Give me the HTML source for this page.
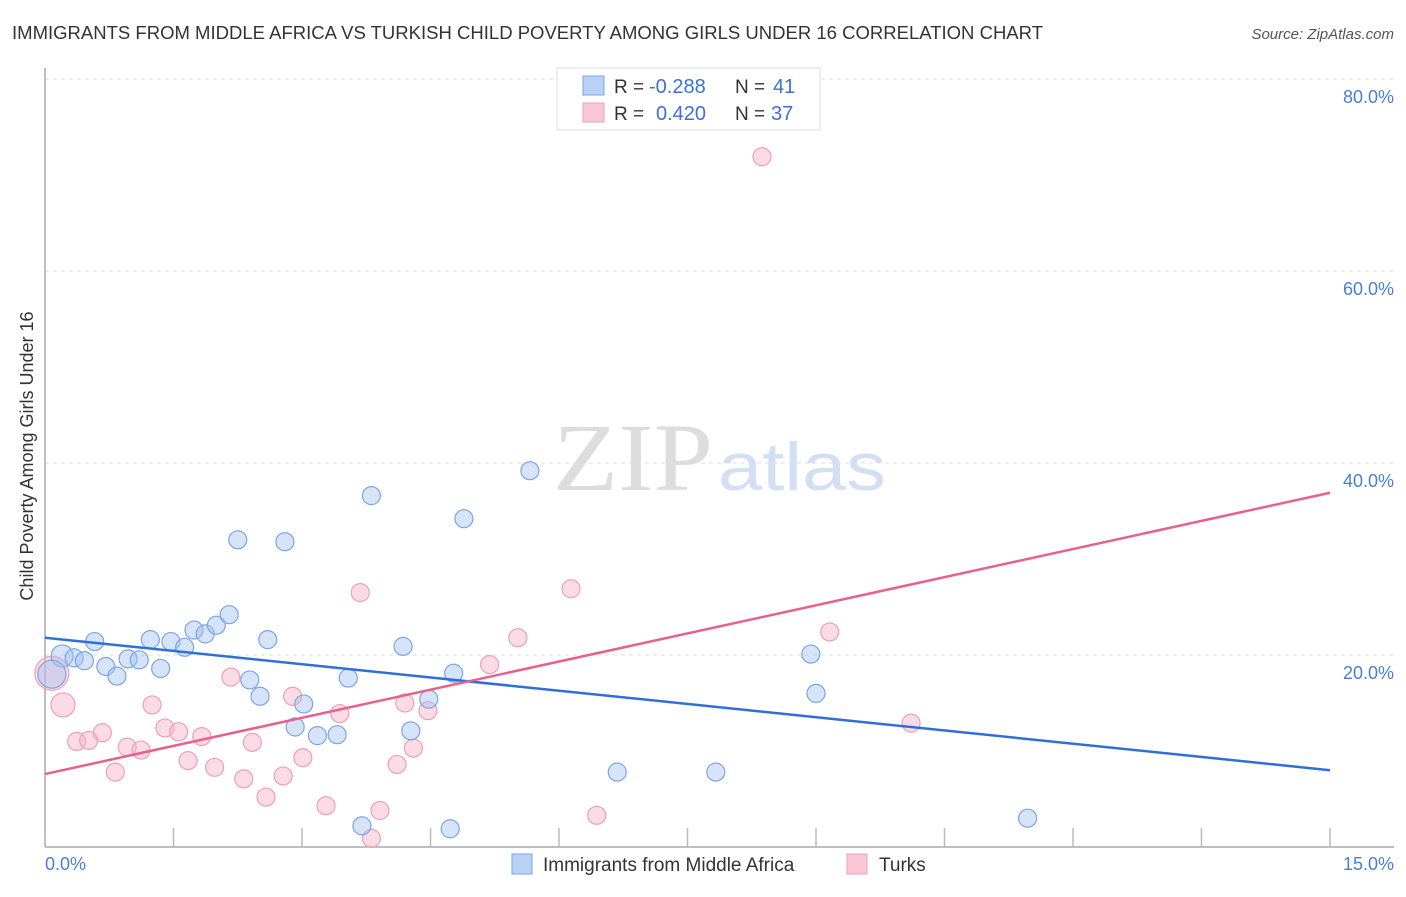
<!DOCTYPE html>
<html><head><meta charset="utf-8"><style>
body{margin:0;background:#fff;font-family:"Liberation Sans",sans-serif;}
svg text{font-family:"Liberation Sans",sans-serif;}
</style></head><body>
<svg id="chart" width="1406" height="892" xmlns="http://www.w3.org/2000/svg">
<text x="12" y="39" font-size="18" fill="#333" textLength="1031" lengthAdjust="spacingAndGlyphs">IMMIGRANTS FROM MIDDLE AFRICA VS TURKISH CHILD POVERTY AMONG GIRLS UNDER 16 CORRELATION CHART</text>
<text x="1394" y="39" font-size="15" fill="#555" text-anchor="end" font-style="italic">Source: ZipAtlas.com</text>
<g id="grid"></g>
<line x1="45" y1="68" x2="45" y2="847" stroke="#aaa" stroke-width="1.5"/>
<line x1="45" y1="847" x2="1394" y2="847" stroke="#aaa" stroke-width="1.5"/>
<g id="xticks"></g>
<text x="553" y="490" font-size="96" fill="#ddd" textLength="160" lengthAdjust="spacingAndGlyphs" style="font-family:'Liberation Serif',serif">ZIP</text>
<text x="718" y="490" font-size="68" fill="#d3e0f3" textLength="168" lengthAdjust="spacingAndGlyphs">atlas</text>
<g id="points"></g>
<g id="lines"></g>
<text transform="translate(33,456) rotate(-90)" font-size="18" fill="#333" text-anchor="middle">Child Poverty Among Girls Under 16</text>
<text x="45" y="870" font-size="18" fill="#4a7fd4">0.0%</text>
<text x="1394" y="870" font-size="18" fill="#4a7fd4" text-anchor="end">15.0%</text>
<g>
<rect x="557" y="68" width="263" height="62" fill="#fff" stroke="#ddd"/>
<rect x="583" y="76" width="21" height="19" fill="#b9d1f5" stroke="#7aa6e6"/>
<rect x="583" y="103" width="21" height="19" fill="#f9c6d5" stroke="#eea0b8"/>
<text x="614" y="93" font-size="19" fill="#333">R =</text>
<text x="649" y="93" font-size="20" fill="#3a72d6">-0.288</text>
<text x="735" y="93" font-size="19" fill="#333">N =</text>
<text x="773" y="93" font-size="20" fill="#3a72d6">41</text>
<text x="614" y="120" font-size="19" fill="#333">R =</text>
<text x="656" y="120" font-size="20" fill="#3a72d6">0.420</text>
<text x="735" y="120" font-size="19" fill="#333">N =</text>
<text x="771" y="120" font-size="20" fill="#3a72d6">37</text>
</g>
<g>
<rect x="512" y="854" width="20" height="20" fill="#b9d1f5" stroke="#7aa6e6"/>
<text x="543" y="871" font-size="19" fill="#333">Immigrants from Middle Africa</text>
<rect x="847" y="854" width="20" height="20" fill="#f9c6d5" stroke="#eea0b8"/>
<text x="879" y="871" font-size="19" fill="#333">Turks</text>
</g>
<g id="yticks"></g>
</svg>
<script>
const blueX=[0.20,0.34,0.46,0.58,0.71,0.84,0.97,1.10,1.23,1.35,1.47,1.63,1.74,1.87,2.00,2.15,2.25,2.39,2.51,2.60,2.80,3.02,2.92,3.18,3.41,3.54,4.18,4.27,4.48,4.77,3.70,4.73,3.81,4.89,5.66,6.68,7.83,8.94,9.00,11.47,0.08];
const blueY=[19.9,19.7,19.4,21.4,18.8,17.8,19.6,19.5,21.6,18.6,21.4,20.8,22.6,22.2,23.1,24.2,32.0,17.4,15.7,21.6,31.8,14.9,12.5,11.6,11.7,17.6,20.9,12.1,15.4,18.1,2.2,1.9,36.6,34.2,39.2,7.8,7.8,20.1,16.0,3.0,18.0];
const pinkX=[0.08,0.21,0.37,0.51,0.67,0.82,0.96,1.12,1.25,1.40,1.56,1.67,1.83,1.98,2.17,2.32,2.42,2.58,2.78,2.89,3.01,3.28,3.44,3.68,3.81,3.91,4.11,4.20,4.30,4.47,5.19,5.52,6.14,6.44,8.37,9.16,10.11];
const pinkY=[18.1,14.8,11.0,11.1,11.9,7.8,10.4,10.1,14.8,12.4,12.0,9.0,11.5,8.3,17.7,7.1,10.9,5.2,7.4,15.7,9.3,4.3,13.9,26.5,0.9,3.8,8.6,15.0,10.3,14.2,19.0,21.8,26.9,3.3,71.9,22.4,12.9];
const blueLine=[21.8,8.0];
const pinkLine=[7.6,36.9];
const yTicks=[20,40,60,80];
const xTicks=[0,1.5,3,4.5,6,7.5,9,10.5,12,13.5,15];
const NS="http://www.w3.org/2000/svg";
const sx=v=>45+v*(1285/15);
const sy=v=>847-v*9.6;
function mk(tag,attrs,parent){const e=document.createElementNS(NS,tag);for(const k in attrs)e.setAttribute(k,attrs[k]);document.getElementById(parent).appendChild(e);return e;}
yTicks.forEach(t=>{
 const l=mk('line',{x1:45,x2:1394,y1:sy(t),y2:sy(t),stroke:'#ddd','stroke-dasharray':'4,4'},'grid');
 
 
 const tx=mk('text',{x:1394,y:sy(t)+24,'font-size':18,fill:'#4a7fd4','text-anchor':'end'},'yticks');
 tx.textContent=t.toFixed(1)+'%';
 
 
});
xTicks.forEach(t=>{
 const l=mk('line',{x1:sx(t),x2:sx(t),y1:828,y2:847,stroke:'#bbb','stroke-width':1.5},'xticks');
 
 
});
pinkX.forEach((x,i)=>{
 const r=i===0?17:(i===1?12:9);
 const c=mk('circle',{cx:sx(x),cy:sy(pinkY[i]),r:r,fill:'rgba(246,176,198,0.45)',stroke:'#eea0b8','stroke-width':1.2},'points');
 
 
});
blueX.forEach((x,i)=>{
 const r=i===blueX.length-1?14:(i===0?11:9);
 const c=mk('circle',{cx:sx(x),cy:sy(blueY[i]),r:r,fill:'rgba(164,194,240,0.45)',stroke:'#7aa6e6','stroke-width':1.2},'points');
 
 
});
const bl=mk('line',{x1:sx(0),y1:sy(blueLine[0]),x2:sx(15),y2:sy(blueLine[1]),stroke:'#2f6fd8','stroke-width':2.5},'lines');


const pl=mk('line',{x1:sx(0),y1:sy(pinkLine[0]),x2:sx(15),y2:sy(pinkLine[1]),stroke:'#e8608c','stroke-width':2.5},'lines');


</script>
</body></html>
